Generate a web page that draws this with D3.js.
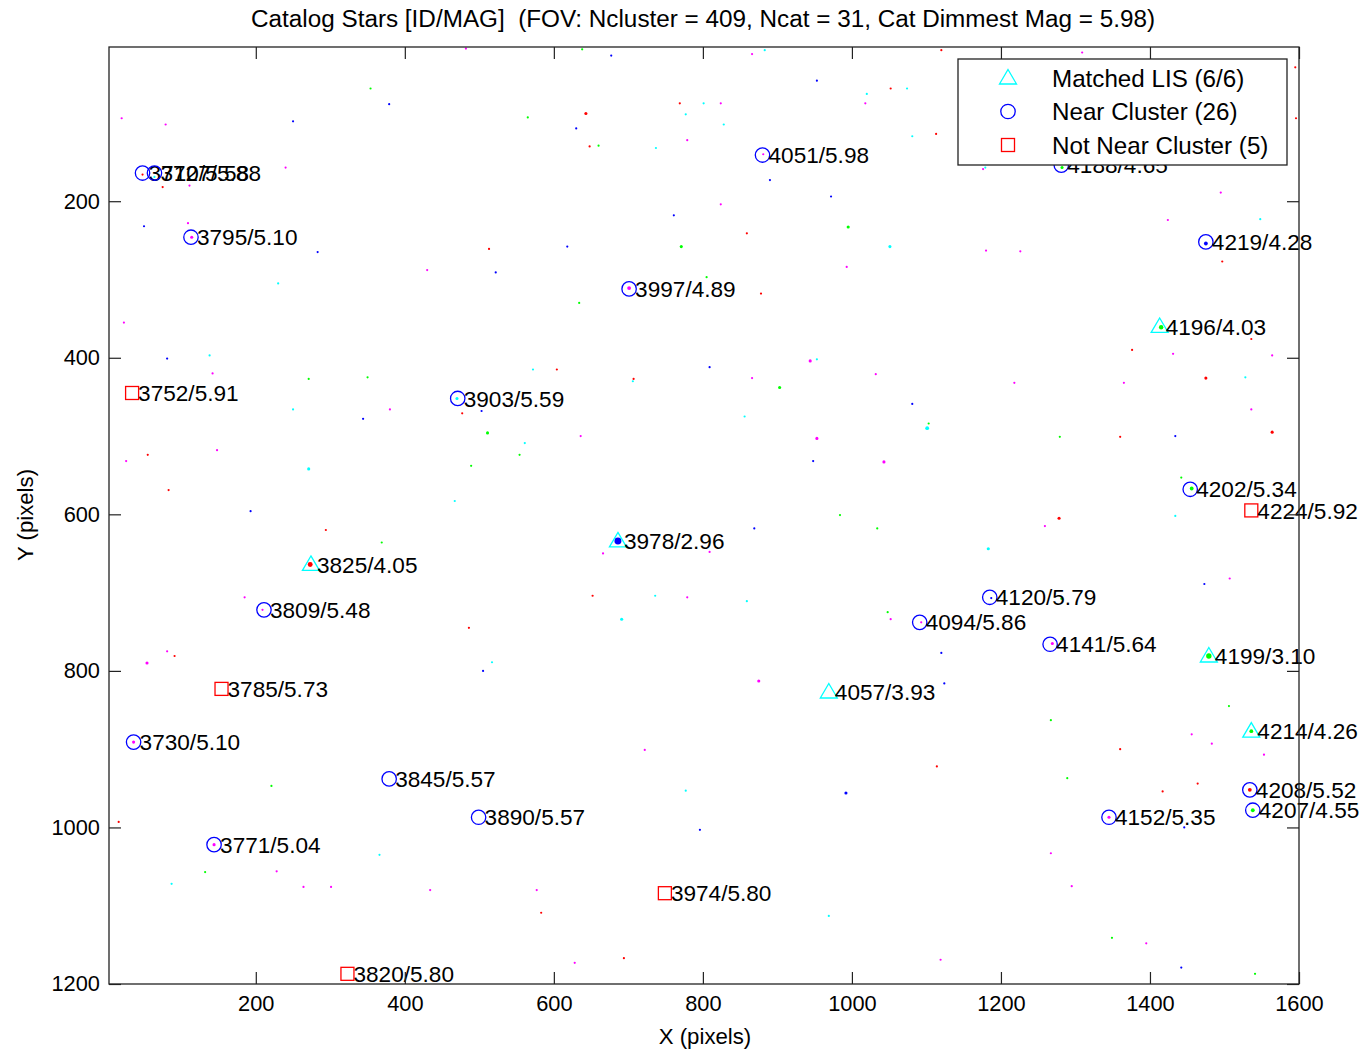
<!DOCTYPE html>
<html>
<head>
<meta charset="utf-8">
<script src="https://cdn.jsdelivr.net/npm/d3@7"></script>
<style>
  body { margin: 0; background: #fff; }
  text { font-family: 'Liberation Sans', Arial, Helvetica, sans-serif; fill: #000; }
</style>
</head>
<body>
<div id="chart-container"></div>
<script>
// catalog stars: id, mag, x, y (image pixels), kind
const starIds = ['3710', '3727', '3795', '4051', '3997', '4188', '4219', '4196', '3752', '3903',
  '4202', '4224', '3978', '3825', '3809', '4120', '4094', '4141', '4199', '3785',
  '4057', '3730', '4214', '3845', '4208', '4207', '3890', '4152', '3771', '3974', '3820']
const starMags = ['5.58', '5.88', '5.10', '5.98', '4.89', '4.65', '4.28', '4.03', '5.91', '5.59',
  '5.34', '5.92', '2.96', '4.05', '5.48', '5.79', '5.86', '5.64', '3.10', '5.73',
  '3.93', '5.10', '4.26', '5.57', '5.52', '4.55', '5.57', '5.35', '5.04', '5.80', '5.80']
const starX = [48, 64, 113, 880, 701, 1281, 1475, 1413, 34, 471,
  1454, 1536, 686, 274, 211, 1185, 1091, 1266, 1479, 154,
  969, 36, 1536, 379, 1534, 1538, 499, 1345, 144, 749, 323]
const starY = [164, 164, 246, 141, 312, 154, 252, 360, 445, 452,
  568, 595, 634, 664, 722, 706, 738, 766, 781, 823,
  827, 891, 877, 938, 952, 978, 987, 987, 1022, 1084, 1187]
// L = matched LIS, N = near cluster, F = not near cluster
const starKind = ['N', 'N', 'N', 'N', 'N', 'N', 'N', 'L', 'F', 'N',
  'N', 'F', 'L', 'L', 'N', 'N', 'N', 'N', 'L', 'F',
  'L', 'N', 'L', 'N', 'N', 'N', 'N', 'N', 'N', 'F', 'F']

// detected clusters: x, y, colour band, pixel count
const clusters = [
  [20, 94, 'm', 1], [79, 102, 'm', 1], [250, 98, 'b', 1], [354, 56, 'g', 1], [379, 76, 'b', 1],
  [565, 93, 'g', 1], [482, 5, 'm', 1], [240, 157, 'm', 1], [48, 166, 'r', 1], [75, 182, 'r', 1],
  [111, 180, 'm', 1], [64, 169, 'c', 1], [109, 228, 'm', 1], [114, 246, 'm', 2], [50, 232, 'b', 1],
  [283, 265, 'b', 1], [513, 261, 'r', 1], [430, 288, 'm', 1], [522, 291, 'b', 1], [230, 305, 'c', 1],
  [23, 355, 'm', 1], [81, 401, 'b', 1], [138, 397, 'c', 1], [572, 415, 'c', 1],
  [638, 6, 'g', 1], [677, 14, 'b', 1], [866, 12, 'm', 1], [883, 7, 'c', 1], [1120, 7, 'r', 1],
  [953, 46, 'b', 1], [1020, 63, 'c', 1], [1052, 56, 'r', 1], [1074, 56, 'c', 1], [1018, 75, 'm', 1],
  [769, 75, 'r', 1], [801, 75, 'c', 1], [824, 75, 'm', 1], [777, 89, 'c', 1], [828, 102, 'c', 1],
  [643, 88, 'r', 2], [630, 107, 'b', 1], [648, 130, 'r', 1], [660, 129, 'g', 1], [737, 132, 'c', 1],
  [779, 122, 'm', 1], [1081, 117, 'c', 1], [1113, 114, 'r', 1], [881, 140, 'm', 1], [890, 173, 'b', 1],
  [972, 194, 'b', 1], [824, 204, 'm', 1], [761, 218, 'b', 1], [859, 241, 'r', 1], [995, 233, 'g', 2],
  [1051, 258, 'c', 2], [1180, 263, 'm', 1], [618, 258, 'b', 1], [771, 258, 'g', 2], [993, 284, 'm', 1],
  [805, 297, 'g', 1], [701, 311, 'm', 3], [878, 318, 'r', 1], [634, 330, 'g', 1], [944, 404, 'm', 2],
  [953, 402, 'c', 1], [809, 412, 'b', 1], [604, 415, 'r', 1], [1176, 159, 'm', 1],
  [1309, 10, 'm', 1], [1595, 29, 'r', 1], [1596, 94, 'r', 1], [1282, 157, 'g', 2], [1179, 157, 'c', 1],
  [1495, 189, 'm', 1], [1424, 224, 'm', 1], [1548, 223, 'c', 1], [1226, 264, 'm', 1], [1475, 254, 'b', 3],
  [1497, 277, 'r', 1], [1415, 361, 'g', 4], [1536, 376, 'r', 1], [1376, 390, 'r', 1], [1431, 395, 'm', 1],
  [1564, 397, 'm', 1],
  [142, 420, 'm', 1], [271, 427, 'g', 1], [350, 425, 'g', 1], [250, 466, 'c', 1], [344, 478, 'b', 1],
  [380, 466, 'm', 1], [470, 452, 'c', 2], [477, 471, 'r', 1], [503, 468, 'b', 1], [511, 496, 'g', 2],
  [561, 509, 'c', 1], [554, 524, 'g', 1], [489, 538, 'g', 1], [26, 532, 'm', 1], [55, 524, 'r', 1],
  [148, 518, 'm', 1], [271, 542, 'c', 2], [83, 569, 'r', 1], [193, 596, 'b', 1], [467, 583, 'c', 1],
  [294, 620, 'r', 1], [369, 636, 'g', 1], [273, 664, 'r', 5], [185, 706, 'm', 1], [209, 722, 'm', 1],
  [486, 745, 'r', 1], [81, 775, 'm', 1], [91, 781, 'r', 1], [54, 790, 'm', 2], [517, 789, 'c', 1],
  [505, 800, 'b', 1],
  [707, 427, 'r', 1], [706, 430, 'c', 1], [866, 426, 'm', 1], [903, 438, 'g', 2], [1032, 421, 'm', 1],
  [1081, 459, 'b', 1], [856, 475, 'c', 1], [636, 500, 'm', 1], [953, 503, 'm', 2], [1103, 484, 'g', 1],
  [1101, 490, 'c', 3], [948, 532, 'b', 1], [1043, 533, 'm', 2], [984, 601, 'g', 1], [1034, 618, 'g', 1],
  [869, 618, 'b', 1], [686, 634, 'b', 10], [666, 650, 'm', 1], [809, 648, 'm', 1], [1183, 644, 'c', 2],
  [652, 704, 'r', 1], [736, 704, 'c', 1], [779, 706, 'm', 1], [859, 711, 'c', 1], [691, 734, 'c', 2],
  [1048, 725, 'g', 1], [1052, 734, 'm', 1], [1093, 738, 'm', 1], [1120, 777, 'b', 1], [875, 813, 'm', 2],
  [1124, 816, 'b', 1],
  [1218, 432, 'm', 1], [1365, 432, 'm', 1], [1475, 426, 'r', 2], [1528, 425, 'c', 1], [1536, 466, 'm', 1],
  [1564, 495, 'r', 2], [1279, 501, 'g', 1], [1360, 501, 'r', 1], [1434, 500, 'b', 1], [1442, 553, 'g', 1],
  [1456, 567, 'g', 3], [1434, 602, 'c', 1], [1278, 605, 'r', 2], [1259, 615, 'm', 1], [1187, 707, 'b', 1],
  [1281, 708, 'g', 1], [1507, 682, 'm', 1], [1473, 689, 'b', 1], [1269, 765, 'm', 2], [1479, 781, 'g', 6],
  // lower part of the field
  [36, 891, 'm', 2], [144, 1022, 'm', 2], [1345, 987, 'm', 2], [1534, 952, 'r', 3], [1538, 978, 'g', 3],
  [1536, 877, 'g', 3], [992, 956, 'b', 2], [1114, 922, 'r', 1], [1360, 900, 'r', 1], [1506, 845, 'g', 1],
  [1456, 881, 'm', 1], [1553, 907, 'm', 1], [1464, 944, 'r', 1], [1289, 937, 'g', 1], [1446, 1000, 'b', 1],
  [16, 993, 'r', 1], [228, 1056, 'm', 1], [264, 1076, 'm', 1], [301, 1076, 'm', 1], [366, 1035, 'c', 1],
  [221, 947, 'g', 1], [434, 1080, 'm', 1], [583, 1109, 'r', 1], [577, 1080, 'm', 1], [628, 1173, 'm', 1],
  [694, 1167, 'r', 1], [796, 1003, 'b', 1], [777, 953, 'c', 1], [969, 1113, 'c', 1], [1119, 1169, 'm', 1],
  [1267, 1033, 'm', 1], [1295, 1075, 'm', 1], [1349, 1141, 'g', 1], [1395, 1148, 'm', 1], [1442, 1179, 'b', 1],
  [1483, 893, 'm', 1], [1267, 863, 'g', 1], [1541, 1187, 'g', 1], [722, 901, 'm', 1], [87, 1072, 'c', 1],
  [132, 1057, 'g', 1], [1417, 954, 'r', 1]
]

const xTicks = [200, 400, 600, 800, 1000, 1200, 1400, 1600]
const yTicks = [200, 400, 600, 800, 1000, 1200]

const legendLabels = ['Matched LIS (6/6)', 'Near Cluster (26)', 'Not Near Cluster (5)']
const legendKinds = ['L', 'N', 'F']

const titleText = 'Catalog Stars [ID/MAG]  (FOV: Ncluster = 409, Ncat = 31, Cat Dimmest Mag = 5.98)'

// layout
const width = 1364
const height = 1051
const margin = {left: 109, top: 47, right: 65, bottom: 67}
const plotW = width - margin.left - margin.right
const plotH = height - margin.top - margin.bottom

const bandColor = {m: '#ff00ff', b: '#0000ff', r: '#ff0000', g: '#00ff00', c: '#00ffff'}
const kindColor = {L: '#00ffff', N: '#0000ff', F: '#ff0000'}

const stars = starIds.map((id, i) => ({
  label: id + '/' + starMags[i], x: starX[i], y: starY[i], kind: starKind[i]
}))

const svg = d3.select('#chart-container')
  .append('svg')
  .attr('width', width)
  .attr('height', height)

svg.append('rect').attr('width', width).attr('height', height).attr('fill', '#fff')

const g = svg.append('g')
  .attr('transform', `translate(${margin.left}, ${margin.top})`)

const xScale = d3.scaleLinear().domain([3, 1600]).range([0, plotW])
const yScale = d3.scaleLinear().domain([3, 1200]).range([0, plotH])

function marker (sel, kind) {
  let shape
  if (kind === 'N') {
    shape = sel.append('circle').attr('r', 7.2)
  } else if (kind === 'F') {
    shape = sel.append('rect').attr('x', -6.5).attr('y', -6.5).attr('width', 13).attr('height', 13)
  } else {
    shape = sel.append('path').attr('d', 'M0,-8.5 L8.5,6 L-8.5,6 Z')
  }
  shape.attr('fill', 'none')
    .attr('stroke', kindColor[kind])
    .attr('stroke-width', 1.3)
}

// cluster dots
g.append('g')
  .selectAll('circle')
  .data(clusters).enter()
  .append('circle')
  .attr('cx', d => xScale(d[0]))
  .attr('cy', d => yScale(d[1]))
  .attr('r', d => 1.1 * Math.sqrt(d[3]))
  .attr('fill', d => bandColor[d[2]])

// catalog markers and ID/MAG labels
const sg = g.append('g')
  .selectAll('g')
  .data(stars).enter()
  .append('g')
  .attr('transform', d => `translate(${xScale(d.x)}, ${yScale(d.y)})`)
sg.each(function (d) { marker(d3.select(this), d.kind) })
sg.append('text')
  .attr('x', 6)
  .attr('dy', '0.36em')
  .attr('font-size', '22.6px')
  .text(d => d.label)

// axes (ticks inside, box all round)
const fmt = d3.format('d')
const axisBottom = d3.axisBottom(xScale).tickValues(xTicks).tickFormat(fmt).tickSizeInner(-12).tickSizeOuter(0).tickPadding(12)
const axisTop = d3.axisTop(xScale).tickValues(xTicks).tickSizeInner(-12).tickSizeOuter(0).tickFormat('')
const axisLeft = d3.axisLeft(yScale).tickValues(yTicks).tickFormat(fmt).tickSizeInner(-12).tickSizeOuter(0).tickPadding(9)
const axisRight = d3.axisRight(yScale).tickValues(yTicks).tickSizeInner(-12).tickSizeOuter(0).tickFormat('')

const axes = [
  g.append('g').attr('transform', `translate(0, ${plotH})`).call(axisBottom),
  g.append('g').call(axisTop),
  g.append('g').call(axisLeft),
  g.append('g').attr('transform', `translate(${plotW}, 0)`).call(axisRight)
]
axes.forEach(a => {
  a.select('.domain').remove()
  a.selectAll('line').attr('stroke', '#222').attr('stroke-width', 1.2)
  a.selectAll('text').attr('font-size', '21.8px').attr('fill', '#000')
    .attr('font-family', "'Liberation Sans', Arial, sans-serif")
})

g.append('rect')
  .attr('width', plotW)
  .attr('height', plotH)
  .attr('fill', 'none')
  .attr('stroke', '#222')
  .attr('stroke-width', 1.3)

// legend
const legend = svg.append('g').attr('transform', 'translate(958, 59)')
legend.append('rect')
  .attr('width', 329)
  .attr('height', 106)
  .attr('fill', '#fff')
  .attr('stroke', '#222')
  .attr('stroke-width', 1.3)
legendKinds.forEach((k, i) => {
  const row = legend.append('g').attr('transform', `translate(0, ${19 + i * 33.5})`)
  const m = row.append('g').attr('transform', 'translate(50, 0)')
  marker(m, k)
  row.append('text')
    .attr('x', 94)
    .attr('dy', '0.36em')
    .attr('font-size', '24.2px')
    .text(legendLabels[i])
})

// titles
svg.append('text')
  .attr('x', 703)
  .attr('y', 19)
  .attr('dy', '0.36em')
  .attr('text-anchor', 'middle')
  .attr('font-size', '23.5px')
  .style('white-space', 'pre')
  .attr('textLength', 904)
  .attr('lengthAdjust', 'spacingAndGlyphs')
  .text(titleText)

svg.append('text')
  .attr('x', 705)
  .attr('y', 1036)
  .attr('dy', '0.36em')
  .attr('text-anchor', 'middle')
  .attr('font-size', '22.2px')
  .text('X (pixels)')

svg.append('text')
  .attr('transform', 'translate(25, 515) rotate(-90)')
  .attr('dy', '0.36em')
  .attr('text-anchor', 'middle')
  .attr('font-size', '22.2px')
  .text('Y (pixels)')
</script>
</body>
</html>
